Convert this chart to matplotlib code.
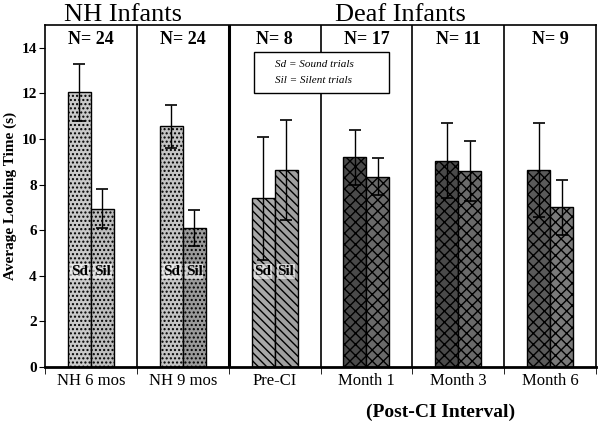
import matplotlib
matplotlib.use("Agg")
import matplotlib.pyplot as plt
from matplotlib.patches import Rectangle
import numpy as np

groups = ["NH 6 mos", "NH 9 mos", "Pre-CI", "Month 1", "Month 3", "Month 6"]
n_labels = ["N= 24", "N= 24", "N= 8", "N= 17", "N= 11", "N= 9"]
sound = [12.05, 10.55, 7.4, 9.2, 9.05, 8.65]
sound_err = [1.25, 0.95, 2.7, 1.2, 1.65, 2.05]
silent = [6.95, 6.1, 8.65, 8.35, 8.6, 7.0]
silent_err = [0.85, 0.8, 2.2, 0.8, 1.3, 1.2]
yticks = [0, 2, 4, 6, 8, 10, 12, 14]

plt.rcParams['font.family'] = ['Liberation Serif', 'DejaVu Serif']

fig = plt.figure(figsize=(6.04, 4.30), dpi=100)
ax = fig.add_axes([45/604, 1-367/430, 551/604, 342/430])

x = np.arange(len(groups))
w = 0.25
face = ['#c9c9c9', '#c4c4c4', '#a8a8a8', '#4a4a4a', '#4a4a4a', '#5a5a5a']
face2 = ['#bdbdbd', '#9a9a9a', '#a0a0a0', '#6a6a6a', '#6a6a6a', '#7a7a7a']
hatch = ['....', '....', '\\\\\\\\', 'xxx', 'xxx', 'xxx']
for i in range(len(groups)):
    ax.bar(x[i]-w/2, sound[i], w, color=face[i], edgecolor='black', hatch=hatch[i], linewidth=1.0, zorder=2)
    ax.bar(x[i]+w/2, silent[i], w, color=face2[i], edgecolor='black', hatch=hatch[i], linewidth=1.0, zorder=2)
    ax.errorbar(x[i]-w/2, sound[i], yerr=sound_err[i], fmt='none', ecolor='black', elinewidth=1.0, capsize=4, capthick=1.2, zorder=3)
    ax.errorbar(x[i]+w/2, silent[i], yerr=silent_err[i], fmt='none', ecolor='black', elinewidth=1.0, capsize=4, capthick=1.2, zorder=3)
    ax.text(x[i], 14.35, n_labels[i], ha='center', va='center', fontsize=13, fontweight='bold')
    if i < 3:
        ax.text(x[i]-w/2, 4.2, "Sd", ha='center', va='center', fontsize=11, fontweight='bold', zorder=4,
                bbox=dict(facecolor='white', edgecolor='none', pad=0.5, alpha=0.6))
        ax.text(x[i]+w/2, 4.2, "Sil", ha='center', va='center', fontsize=11, fontweight='bold', zorder=4,
                bbox=dict(facecolor='white', edgecolor='none', pad=0.5, alpha=0.6))

for b in range(1, len(groups)):
    ax.axvline(b-0.5, color='black', linewidth=2.2 if b == 2 else 1.2, zorder=1)

ax.set_xlim(-0.5, len(groups)-0.5)
ax.set_ylim(0, 15)
ax.set_yticks(yticks)
ax.set_yticklabels([str(t) for t in yticks], fontsize=11, fontweight='bold')
ax.set_xticks(x)
ax.set_xticklabels(groups, fontsize=12)
ax.tick_params(axis='x', length=0, pad=4)
ax.set_xticks(np.arange(-0.5, len(groups), 1), minor=True)
ax.tick_params(axis='x', which='minor', length=5, direction='out')
ax.tick_params(axis='y', length=4, direction='out', pad=2)
for s in ax.spines.values():
    s.set_linewidth(1.2)
ax.spines['bottom'].set_linewidth(2.0)
ax.set_ylabel("Average Looking Time (s)", fontsize=11, fontweight='bold', labelpad=3)

# legend box
ax.add_patch(Rectangle((1.78, 12.0), 1.47, 1.8, facecolor='white', edgecolor='black', linewidth=1.0, zorder=5))
ax.text(2.0, 13.25, "Sd = Sound trials", ha='left', va='center', fontsize=8, style='italic', zorder=6)
ax.text(2.0, 12.55, "Sil = Silent trials", ha='left', va='center', fontsize=8, style='italic', zorder=6)

fig.text(123/604, 1-15/430, "NH Infants", ha='center', va='center', fontsize=19)
fig.text(400/604, 1-15/430, "Deaf Infants", ha='center', va='center', fontsize=19)
fig.text(441/604, 1-412/430, "(Post-CI Interval)", ha='center', va='center', fontsize=14, fontweight='bold')

fig.savefig("out.png", dpi=100)
